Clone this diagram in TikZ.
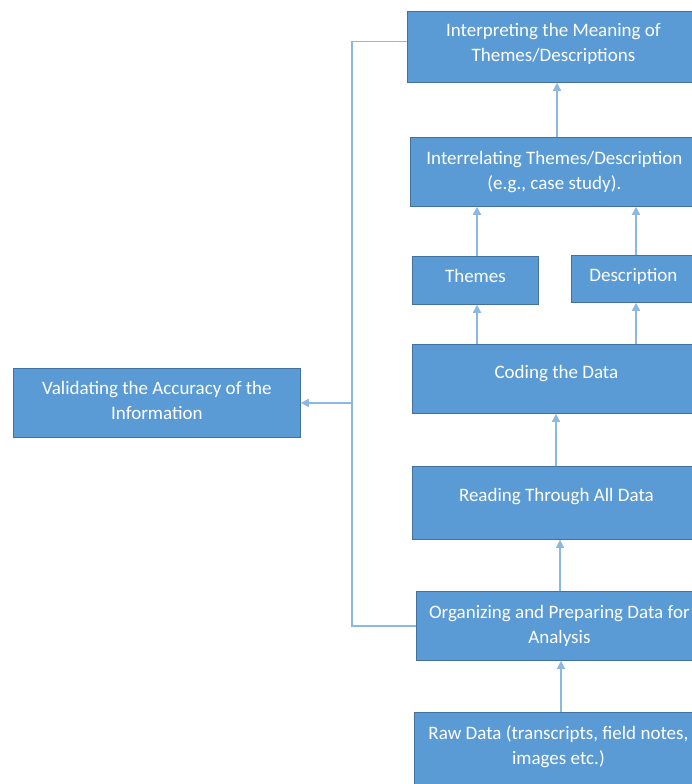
\documentclass[tikz,border=0pt]{standalone}
\usepackage{fontspec}
\setmainfont{Carlito}
\usetikzlibrary{arrows.meta}
\definecolor{boxfill}{HTML}{5B9BD5}
\definecolor{boxline}{HTML}{41719C}
\definecolor{conncol}{HTML}{8DB8E2}
\tikzset{
  box/.style={draw=boxline, line width=0.8pt, fill=boxfill, text=white, anchor=north west,
    align=center, inner sep=0pt, font=\fontsize{19}{25}\selectfont},
  conn/.style={draw=conncol, line width=1.4pt},
  arr/.style={conn, -{Triangle[width=8pt,length=8pt]}}
}
\begin{document}
\begin{tikzpicture}[x=1pt,y=-1pt]
\useasboundingbox (0,0) rectangle (692,784);
\fill[white] (0,0) rectangle (692,784);
\clip (0,0) rectangle (692,784);
\node[box, minimum width=292pt, minimum height=71pt, text depth=9pt] (interp) at (407,11) {Interpreting the Meaning of\\Themes/Descriptions};
\node[box, minimum width=288pt, minimum height=69pt] (interrel) at (410,137) {Interrelating Themes/Description\\(e.g., case study).};
\node[box, minimum width=126pt, minimum height=48pt, text depth=8pt] (themes) at (412,256) {Themes};
\node[box, minimum width=124pt, minimum height=47pt, text depth=8.5pt] (desc) at (571,255) {Description};
\node[box, minimum width=288pt, minimum height=69pt, text depth=14pt] (coding) at (412,344) {Coding the Data};
\node[box, minimum width=288pt, minimum height=73pt, text depth=16pt] (reading) at (412,466) {Reading Through All Data};
\node[box, minimum width=286pt, minimum height=69pt] (org) at (416,591) {Organizing and Preparing Data for\\Analysis};
\node[box, minimum width=288pt, minimum height=80pt, text depth=14pt] (raw) at (414,712) {Raw Data (transcripts, field notes,\\images etc.)};
\node[box, minimum width=287pt, minimum height=69pt, text depth=5pt] (val) at (13,368) {Validating the Accuracy of the\\Information};
\coordinate (xa) at (557,0);
\coordinate (xb) at (477,0);
\coordinate (xc) at (636,0);
\coordinate (xd) at (556,0);
\coordinate (xe) at (560,0);
\coordinate (xf) at (561,0);
\coordinate (fbx) at (352,0);
\draw[arr] (interrel.north -| xa) -- (interp.south -| xa);
\draw[arr] (themes.north -| xb) -- (interrel.south -| xb);
\draw[arr] (desc.north -| xc) -- (interrel.south -| xc);
\draw[arr] (coding.north -| xb) -- (themes.south -| xb);
\draw[arr] (coding.north -| xc) -- (desc.south -| xc);
\draw[arr] (reading.north -| xd) -- (coding.south -| xd);
\draw[arr] (org.north -| xe) -- (reading.south -| xe);
\draw[arr] (raw.north -| xf) -- (org.south -| xf);
\draw[conn] ([yshift=5.5pt]interp.west) -| (fbx |- org.west) -- (org.west);
\draw[arr] (fbx |- val.east) -- (val.east);
\end{tikzpicture}
\end{document}
